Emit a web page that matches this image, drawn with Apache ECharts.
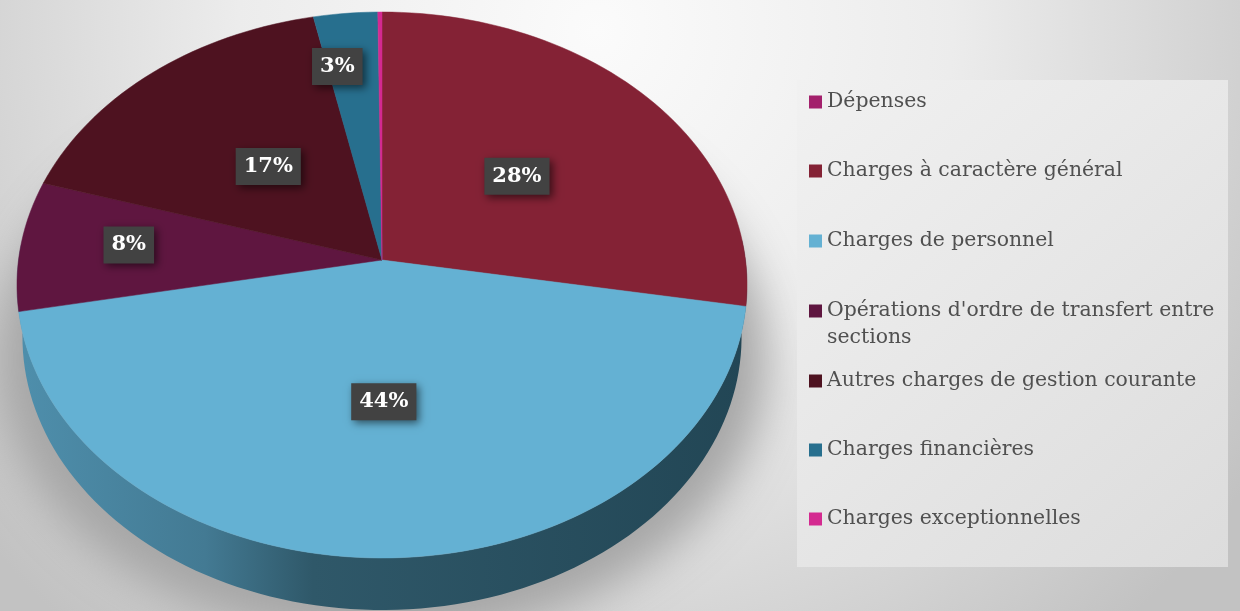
<!DOCTYPE html>
<html>
<head>
<meta charset="utf-8">
<script src="https://cdn.jsdelivr.net/npm/echarts@6/dist/echarts.min.js"></script>
<style>
  html, body { margin: 0; padding: 0; background: #fff; }
  #chart { width: 1240px; height: 611px; }
</style>
</head>
<body>
<div id="chart"></div>
<script>
// valeurs (en %)
const categories = [
  "Dépenses",
  "Charges à caractère général",
  "Charges de personnel",
  "Opérations d'ordre de transfert entre sections",
  "Autres charges de gestion courante",
  "Charges financières",
  "Charges exceptionnelles",
];
const values = [0, 27.7, 44.3, 7.7, 17.0, 3.1, 0.2];
const colors = ["#a3206c", "#842235", "#64b1d3", "#5f1640", "#4e1220", "#276f8e", "#d42a90"];
const legendRows = [102, 171, 241, 311, 381, 450, 519];

// étiquettes : rayon relatif et petit décalage en px, par part
const labelRadius = [0.5, 0.5, 0.5, 0.7, 0.5, 0.77, 0.5];
const labelNudge = [[0, 0], [0, 1], [0, 0], [0, -5], [5, 3], [-16, 0], [0, 0]];

// disque en perspective : centre (cx, cy), axes rx/ry, p = force de la perspective
const cx = 382, cy = 260, rx = 363.5, ry = 270.7, p = 0.0916, depth = 52;
const total = values.reduce((a, b) => a + b, 0);

const project = (angle, r) => {
  const u = r * Math.sin(angle), v = r * Math.cos(angle), w = 1 + p * v;
  return [cx + (rx * u) / w, cy - (ry * v) / w];
};

const arcPoints = (a0, a1) => {
  const n = Math.max(2, Math.ceil((a1 - a0) / 0.03));
  const pts = [];
  for (let i = 0; i <= n; i++) pts.push(project(a0 + ((a1 - a0) * i) / n, 1));
  return pts;
};

const wallGradient = new echarts.graphic.LinearGradient(
  25, 0, 745, 0,
  [
    { offset: 0, color: "#4e8eab" },
    { offset: 0.25, color: "#437a93" },
    { offset: 0.4, color: "#2f5869" },
    { offset: 1, color: "#224655" },
  ],
  true
);

let acc = 0;
const sliceAngles = values.map((v) => {
  const a0 = (acc / total) * Math.PI * 2;
  acc += v;
  return [a0, (acc / total) * Math.PI * 2];
});

const renderSlice = (i) => () => {
  const [a0, a1] = sliceAngles[i];
  if (values[i] === 0) return null;
  const arc = arcPoints(a0, a1);
  const children = [
    {
      type: "polygon",
      z2: 2,
      shape: { points: [[cx, cy]].concat(arc) },
      style: { fill: colors[i], stroke: colors[i], lineWidth: 0.5 },
    },
  ];
  // seul le bord avant est visible, il suit la part "Charges de personnel"
  if (i === 2) {
    const wall = arcPoints(a0 - 0.25, a1 + 0.25);
    const lower = wall.map((q) => [cx + (q[0] - cx) * 0.985, q[1] + depth]);
    children.push({
      type: "polygon",
      z2: 1,
      shape: { points: wall.concat(lower.reverse()) },
      style: { fill: wallGradient },
    });
  }
  if (values[i] >= 1) {
    const pos = project((a0 + a1) / 2, labelRadius[i]);
    children.push({
      type: "text",
      z2: 3,
      style: {
        x: pos[0] + labelNudge[i][0],
        y: pos[1] + labelNudge[i][1],
        text: Math.round(values[i]) + "%",
        align: "center",
        verticalAlign: "middle",
        font: 'bold 21px "DejaVu Serif"',
        fill: "#ffffff",
        backgroundColor: "#424242",
        padding: [8, 8],
        shadowBlur: 8,
        shadowColor: "rgba(0,0,0,0.55)",
        shadowOffsetX: 3,
        shadowOffsetY: 3,
      },
    });
  }
  return { type: "group", children };
};

const chart = echarts.init(document.getElementById("chart"));

chart.setOption({
  animation: false,
  backgroundColor: {
    type: "radial",
    x: 0.48,
    y: 0.05,
    r: 1.3,
    colorStops: [
      { offset: 0, color: "#fbfbfb" },
      { offset: 0.45, color: "#ececec" },
      { offset: 0.8, color: "#d2d2d2" },
      { offset: 1, color: "#c2c2c2" },
    ],
  },
  graphic: [
    {
      // ombre portée : ellipse hors champ, seule son ombre floue reste visible
      type: "ellipse",
      z: 0,
      shape: { cx: 382 - 2000, cy: 360, rx: 385, ry: 280 },
      style: {
        fill: "#a6a6a6",
        shadowBlur: 45,
        shadowColor: "#a6a6a6",
        shadowOffsetX: 2000,
      },
    },
    {
      type: "rect",
      z: 1,
      shape: { x: 797, y: 80, width: 431, height: 487 },
      style: {
        fill: new echarts.graphic.LinearGradient(0, 0, 1, 1, [
          { offset: 0, color: "#f1f1f1" },
          { offset: 1, color: "#dcdcdc" },
        ]),
      },
    },
  ],
  legend: categories.map((name, i) => {
    const twoLines = i === 3;
    return {
      data: [name],
      left: 809,
      top: legendRows[i] - (twoLines ? 40.5 : 13.5),
      padding: 0,
      selectedMode: false,
      icon: "rect",
      itemWidth: 13,
      itemHeight: 13,
      itemGap: 5,
      // ligne vide en tête pour garder le carré en face de la première ligne
      formatter: twoLines
        ? () => "\nOpérations d'ordre de transfert entre\nsections"
        : undefined,
      textStyle: {
        fontFamily: "DejaVu Serif",
        fontSize: 20.4,
        lineHeight: 27,
        color: "#505050",
        padding: 0,
      },
    };
  }),
  series: categories.map((name, i) => ({
    type: "custom",
    name,
    coordinateSystem: "none",
    itemStyle: { color: colors[i] },
    data: [[values[i]]],
    renderItem: renderSlice(i),
  })),
});
</script>
</body>
</html>
